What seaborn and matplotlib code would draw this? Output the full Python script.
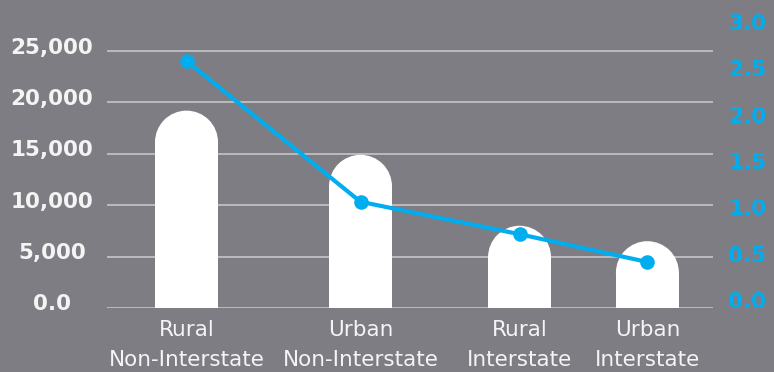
import matplotlib
matplotlib.use("Agg")
import matplotlib.pyplot as plt
import numpy as np
import pandas as pd
import seaborn as sns
from matplotlib.patches import Ellipse
from matplotlib.transforms import ScaledTranslation

# Road categories and their values
categories = ["Rural\nNon-Interstate", "Urban\nNon-Interstate",
              "Rural\nInterstate", "Urban\nInterstate"]
fatalities = [19200, 14900, 8000, 6500]        # left axis (bars)
fatality_rate = [2.58, 1.06, 0.71, 0.41]       # right axis (line)

left_ticks = [0, 5000, 10000, 15000, 20000, 25000]
left_tick_labels = ["0.0", "5,000", "10,000", "15,000", "20,000", "25,000"]
right_ticks = [0.0, 0.5, 1.0, 1.5, 2.0, 2.5, 3.0]
right_tick_labels = ["0.0", "0.5", "1.0", "1.5", "2.0", "2.5", "3.0"]

# horizontal placement of the four groups (not evenly spaced)
group_pos = [0.0, 1.0, 1.914, 2.649]
BAR_W = 0.362

BG = "#7e7d83"
CYAN = "#00aeef"
GRID = "#c6c6c9"
TEXT = "#f4f4f4"

sns.set_style("white")
plt.rcParams["font.family"] = ["DejaVu Sans"]

W, H, DPI = 774, 372, 100
fig = plt.figure(figsize=(W / DPI, H / DPI), dpi=DPI, facecolor=BG)
left_px, right_px, top_px, bottom_px = 107, 713, 15, 308
ax = fig.add_axes([left_px / W, 1 - bottom_px / H,
                   (right_px - left_px) / W, (bottom_px - top_px) / H])
ax.set_facecolor(BG)

df = pd.DataFrame({"pos": group_pos, "fatalities": fatalities})
sns.barplot(data=df, x="pos", y="fatalities", native_scale=True,
            color="white", saturation=1, errorbar=None, linewidth=0,
            ax=ax, zorder=2)

ax.set_xlim(-0.457, 3.026)
ax.set_ylim(0, 28502)

# rounded (semicircular) bar tops
inv = ax.transData.inverted()
y0_px = ax.transData.transform((0, 0))[1]
for p in list(ax.patches):
    xc = p.get_x() + p.get_width() / 2
    h = p.get_height()
    x0 = xc - BAR_W / 2
    (px0, _), (px1, _) = ax.transData.transform([(x0, 0), (x0 + BAR_W, 0)])
    r_px = (px1 - px0) / 2
    r_data = inv.transform((px0, y0_px + r_px))[1]
    p.set_x(x0)
    p.set_width(BAR_W)
    p.set_height(h - r_data)
    ax.add_patch(Ellipse((xc, h - r_data), BAR_W, 2 * r_data,
                         facecolor="white", edgecolor="none", zorder=2))

# left axis: grid and labels
ax.set_axisbelow(True)
ax.yaxis.grid(True, color=GRID, linewidth=1.2)
ax.xaxis.grid(False)
for s in ax.spines.values():
    s.set_visible(False)
ax.tick_params(axis="y", length=0, pad=39.6)
ax.set_yticks(left_ticks, left_tick_labels, fontsize=15.5, fontweight="bold",
              color=TEXT, ha="center")
shift = ScaledTranslation(0, 5.5 / DPI, fig.dpi_scale_trans)
for lab in ax.get_yticklabels():
    lab.set_transform(lab.get_transform() + shift)

ax.tick_params(axis="x", length=0, pad=9)
ax.set_xticks(group_pos, categories, fontsize=15.5, color=TEXT,
              linespacing=1.6)
ax.set_xlabel("")
ax.set_ylabel("")

# right axis: rate line
ax2 = ax.twinx()
sns.lineplot(x=group_pos, y=fatality_rate, ax=ax2, color=CYAN, linewidth=3,
             marker="o", markersize=10.5, markeredgewidth=0, zorder=3)
ax2.set_ylim(-0.0863, 3.0755)
for s in ax2.spines.values():
    s.set_visible(False)
ax2.tick_params(axis="y", length=0, pad=24.8)
ax2.set_yticks(right_ticks, right_tick_labels, fontsize=15.5,
               fontweight="bold", color=CYAN, ha="center")
ax2.set_ylabel("")
ax2.grid(False)

fig.savefig("out.png", dpi=DPI, facecolor=BG)
